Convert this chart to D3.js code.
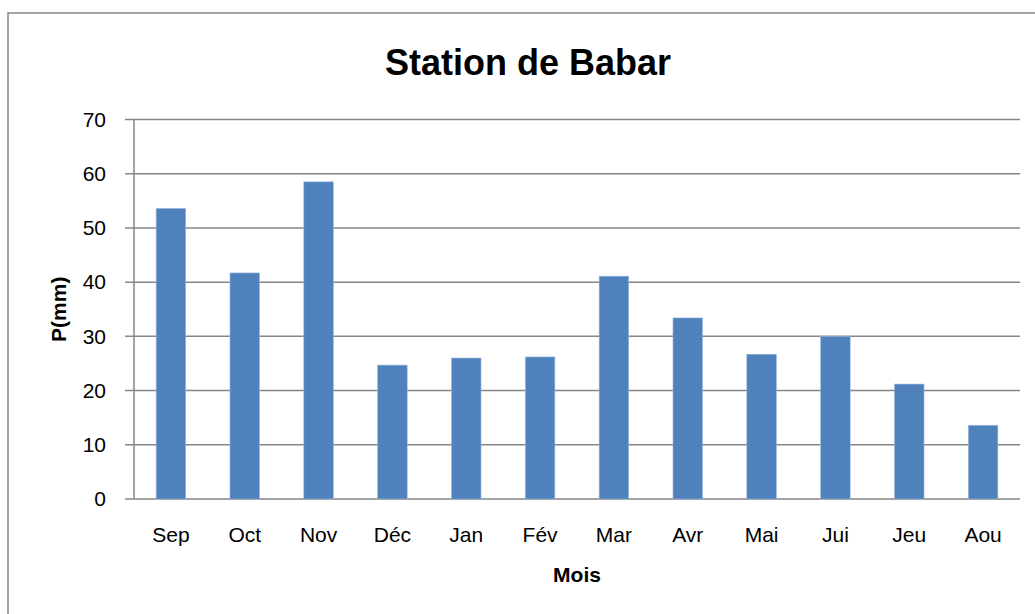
<!DOCTYPE html>
<html>
<head>
<meta charset="utf-8">
<script src="https://cdn.jsdelivr.net/npm/d3@7"></script>
<style>
  body { margin: 0; background: #fff; }
  text { font-family: "Liberation Sans", Arial, sans-serif; fill: #000; }
</style>
</head>
<body>
<div id="chart"></div>
<script>
// monthly precipitation, Babar station
var months = ["Sep", "Oct", "Nov", "Déc", "Jan", "Fév", "Mar", "Avr", "Mai", "Jui", "Jeu", "Aou"];
var precip = [53.6, 41.7, 58.5, 24.7, 26.0, 26.2, 41.1, 33.4, 26.7, 30.0, 21.2, 13.6];
var yTicks = [0, 10, 20, 30, 40, 50, 60, 70];

var W = 1035, H = 614;
var margin = {top: 119.5, right: 15, bottom: 115, left: 134},
    w = W - margin.left - margin.right,
    h = H - margin.top - margin.bottom;

var svg = d3.select("#chart").append("svg")
    .attr("width", W)
    .attr("height", H);

// outer chart border (runs off the page on right and bottom)
svg.append("rect")
    .attr("x", 8).attr("y", 13)
    .attr("width", 1100).attr("height", 700)
    .attr("fill", "none")
    .attr("stroke", "#868686")
    .attr("stroke-width", 1.5);

svg.append("text")
    .attr("x", 528).attr("y", 75)
    .attr("text-anchor", "middle")
    .style("font-size", "36px")
    .style("font-weight", "bold")
    .text("Station de Babar");

var g = svg.append("g")
    .attr("transform", "translate(" + margin.left + "," + margin.top + ")");

var x = d3.scaleBand().domain(months).range([0, w]).paddingInner(0.6).paddingOuter(0.3);
var y = d3.scaleLinear().domain([0, 70]).range([h, 0]);

// gridlines
g.selectAll(".grid")
    .data(yTicks)
    .enter().append("line")
    .attr("x1", -9).attr("x2", w)
    .attr("y1", function(d) { return y(d); })
    .attr("y2", function(d) { return y(d); })
    .attr("stroke", "#868686")
    .attr("stroke-width", 1.5);

// bars
g.selectAll(".bar")
    .data(precip)
    .enter().append("rect")
    .attr("x", function(d, i) { return x(months[i]); })
    .attr("y", function(d) { return y(d); })
    .attr("width", x.bandwidth())
    .attr("height", function(d) { return h - y(d); })
    .attr("fill", "#4F81BD")
    .attr("stroke", "#9DB7DC")
    .attr("stroke-width", 0.6);

// y axis line
g.append("line")
    .attr("x1", 0).attr("x2", 0)
    .attr("y1", 0).attr("y2", h)
    .attr("stroke", "#868686")
    .attr("stroke-width", 1.5);

var yAxis = d3.axisLeft(y).tickValues(yTicks).tickSize(0).tickPadding(28);
var ya = g.append("g").call(yAxis);
ya.select(".domain").remove();
ya.selectAll("text").style("font-size", "21px").style("font-family", "Liberation Sans, Arial, sans-serif").attr("fill", "#000");

var xAxis = d3.axisBottom(x).tickSize(0).tickPadding(28);
var xa = g.append("g").attr("transform", "translate(0," + h + ")").call(xAxis);
xa.select(".domain").remove();
xa.selectAll("text").style("font-size", "21px").style("font-family", "Liberation Sans, Arial, sans-serif").attr("fill", "#000");

// axis titles
svg.append("text")
    .attr("x", margin.left + w / 2).attr("y", 582)
    .attr("text-anchor", "middle")
    .style("font-size", "21px")
    .style("font-weight", "bold")
    .text("Mois");

svg.append("text")
    .attr("transform", "translate(66," + (margin.top + h / 2) + ") rotate(-90)")
    .attr("text-anchor", "middle")
    .style("font-size", "21px")
    .style("font-weight", "bold")
    .text("P(mm)");
</script>
</body>
</html>
